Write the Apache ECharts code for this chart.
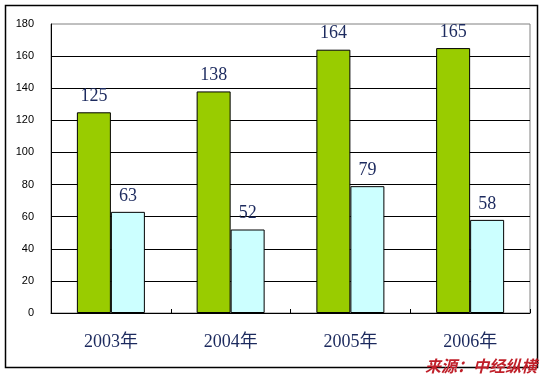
<!DOCTYPE html>
<html><head><meta charset="utf-8">
<script src="https://cdn.jsdelivr.net/npm/echarts@6/dist/echarts.min.js"></script>
<style>html,body{margin:0;padding:0;background:#fff}#c{width:547px;height:379px}</style>
</head><body><div id="c"></div>
<script>
var categories = ['2003年', '2004年', '2005年', '2006年'];
var seriesA = [125, 138, 164, 165];
var seriesB = [63, 52, 79, 58];
var yTicks = [0, 20, 40, 60, 80, 100, 120, 140, 160, 180];
var sourceText = '来源：中经纵横';

var chart = echarts.init(document.getElementById('c'), null, {renderer: 'canvas'});
var labelStyle = {
  show: true, position: 'top', distance: 7,
  color: '#1c2a5e', fontSize: 18,
  fontFamily: '"Liberation Serif","DejaVu Serif",serif'
};
chart.setOption({
  animation: false,
  backgroundColor: '#fff',
  grid: {left: 51, right: 17, top: 24, bottom: 66, show: true, borderColor: '#808080', borderWidth: 1},
  graphic: [
    {type: 'rect', shape: {x: 5.5, y: 5.5, width: 532, height: 362}, style: {fill: 'none', stroke: '#000', lineWidth: 1.5}, z: -1},
    {type: 'text', right: 10, top: 358, style: {text: sourceText, fill: '#c0202a', font: 'italic bold 16px "Noto Sans CJK SC", sans-serif'}, z: 10}
  ],
  xAxis: {
    type: 'category', data: categories,
    axisLine: {lineStyle: {color: '#000', width: 1}},
    axisTick: {show: true, inside: true, length: 4, lineStyle: {color: '#000'}},
    axisLabel: {margin: 20, color: '#1c2a5e', fontSize: 18, fontFamily: '"Liberation Serif","Noto Sans CJK SC",serif'}
  },
  yAxis: {
    type: 'value', min: yTicks[0], max: yTicks[yTicks.length - 1], interval: yTicks[1] - yTicks[0],
    axisLine: {show: true, lineStyle: {color: '#000', width: 1}},
    axisTick: {show: false},
    axisLabel: {margin: 17, color: '#000', fontSize: 11, fontFamily: '"Liberation Sans",Arial,sans-serif'},
    splitLine: {show: true, showMaxLine: false, lineStyle: {color: '#000', width: 1}}
  },
  series: [
    {type: 'bar', data: seriesA, barWidth: 34, barGap: '0%',
     itemStyle: {color: '#99cc00', borderColor: '#000', borderWidth: 1}, label: labelStyle},
    {type: 'bar', data: seriesB, barWidth: 34, barGap: '0%',
     itemStyle: {color: '#ccffff', borderColor: '#000', borderWidth: 1}, label: labelStyle}
  ]
});
</script></body></html>
